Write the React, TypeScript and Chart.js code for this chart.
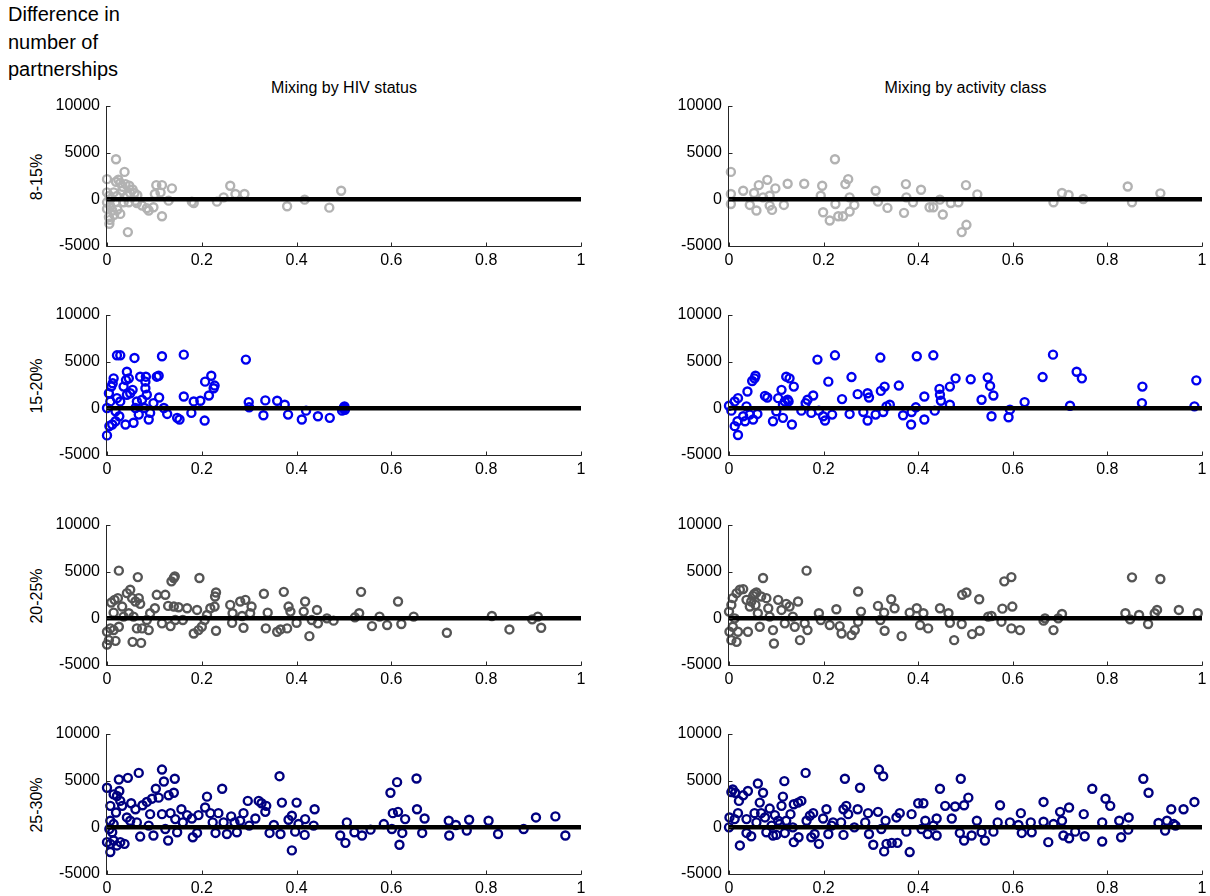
import React, { useEffect, useRef } from "react";
import { Chart, registerables } from "chart.js";

Chart.register(...registerables);

const FONT = '"Liberation Sans", Arial, Helvetica, sans-serif';

const xTicks = [0, 0.2, 0.4, 0.6, 0.8, 1];
const yTicks = [-5000, 0, 5000, 10000];
const columnTitles = ["Mixing by HIV status", "Mixing by activity class"];
const rowLabels = ["8-15%", "15-20%", "20-25%", "25-30%"];
const rowColors = ["#b2b2b2", "#0000ee", "#555555", "#000080"];
const zeroLineX = [0, 1];
const yAxisLabel = ["Difference in", "number of", "partnerships"];

type P = [number, number][];

const hiv_8_15: P = [
  [0.019, 4290], [0.037, 2940], [0, 2160], [0.019, 1880], [0.028, 1740], [0.039, 1630], [0.047, 1450],
  [0.024, 2100], [0.033, 1350], [0.054, 1050], [0, 745], [0.014, 745], [0.032, 920], [0.049, 675],
  [0.058, 675], [0.005, 390], [0.021, 350], [0.042, 400], [0.064, 450], [0.007, 35], [0.018, -320],
  [0, -320], [0.035, -320], [0.046, -320], [0.06, -150], [0, -1030], [0.011, -1200], [0.028, -1560],
  [0.022, -1100], [0.007, -700], [0.015, -1650], [0.004, -1900], [0.006, -2200], [0.005, -2620],
  [0.044, -3510], [0.063, -390], [0.074, -670], [0.084, -960], [0.098, -850], [0.088, -1200],
  [0.104, 1520], [0.116, 1520], [0.137, 1170], [0.101, 570], [0.113, 745], [0.116, -1810], [0.13, -140],
  [0.179, -250], [0.183, -390], [0.232, -250], [0.246, 210], [0.26, 1450], [0.271, 570], [0.29, 570],
  [0.38, -745], [0.417, -35], [0.469, -890], [0.494, 920]
];

const act_8_15: P = [
  [0.004, 2940], [0.004, 570], [0.004, -500], [0.03, 920], [0.044, -600], [0.053, 675], [0.058, -1200],
  [0.063, 1520], [0.072, 210], [0.081, 2090], [0.086, 390], [0.086, -670], [0.091, -1130], [0.098, 1170],
  [0.116, -600], [0.124, 1670], [0.159, 1670], [0.194, 390], [0.197, 1450], [0.199, -1380], [0.213, -2270],
  [0.224, 4290], [0.225, -500], [0.231, -1810], [0.241, -1810], [0.246, 1630], [0.252, 2160], [0.255, -1310],
  [0.255, 210], [0.265, -600], [0.31, 920], [0.315, -250], [0.335, -920], [0.37, -1450], [0.374, 1630],
  [0.375, 210], [0.389, -320], [0.406, 1030], [0.424, -850], [0.432, -850], [0.446, -35], [0.452, -1630],
  [0.469, -390], [0.485, -320], [0.492, -3510], [0.502, -2730], [0.501, 1520], [0.525, 530], [0.686, -320],
  [0.704, 675], [0.718, 460], [0.749, 35], [0.843, 1380], [0.852, -320], [0.912, 640]
];

const hiv_15_20: P = [
  [0, -2900], [0.005, -1900], [0.011, -1730], [0.018, -1380], [0, 35], [0.007, 740], [0.004, 1620],
  [0.009, 2330], [0.014, 3210], [0.012, 2680], [0.021, 5680], [0.028, 5680], [0.021, 1090], [0.028, 740],
  [0.018, -320], [0.026, -850], [0.035, 2330], [0.042, 3920], [0.04, 3030], [0.046, 3210], [0.042, 1450],
  [0.049, 1620], [0.039, -1730], [0.056, -1550], [0.058, 5400], [0.054, 1980], [0.063, 740], [0.06, 35],
  [0.07, 3390], [0.074, 920], [0.081, 2860], [0.082, 3390], [0.081, 2150], [0.084, 1450], [0.088, -1200],
  [0.091, -490], [0.079, 35], [0.067, -670], [0.098, 560], [0.105, 3390], [0.109, 3490], [0.11, 1160],
  [0.116, 5580], [0.12, 35], [0.127, -600], [0.148, -1020], [0.153, -1200], [0.162, 1270], [0.162, 5750],
  [0.178, -490], [0.183, 740], [0.197, 810], [0.206, -1310], [0.207, 2860], [0.215, 1380], [0.22, 3490],
  [0.225, 2150], [0.227, 2440], [0.293, 5220], [0.299, 670], [0.3, 110], [0.33, -740], [0.334, 850],
  [0.359, 810], [0.375, 390], [0.382, -670], [0.411, -1200], [0.42, -250], [0.445, -850], [0.47, -1020],
  [0.499, -35], [0.501, 210], [0.496, -250], [0.5, 100], [0.502, -150]
];

const act_15_20: P = [
  [0, 280], [0.005, -250], [0.012, 740], [0.019, 1090], [0.012, -1910], [0.019, -2860], [0.018, -1380],
  [0.03, -850], [0.037, 210], [0.034, -1380], [0.039, 1800], [0.044, -670], [0.049, 2930], [0.054, 3210],
  [0.056, 3490], [0.051, -1200], [0.06, -600], [0.076, 1340], [0.081, 1160], [0.093, -1380], [0.1, -320],
  [0.104, 1090], [0.111, 1980], [0.114, 390], [0.114, -1020], [0.118, 740], [0.121, 3390], [0.124, 920],
  [0.126, 740], [0.128, 3210], [0.133, -1730], [0.137, 2330], [0.153, -250], [0.162, 560], [0.166, 920],
  [0.174, -490], [0.178, 1380], [0.187, 5220], [0.19, -250], [0.199, -850], [0.203, -1310], [0.21, 2860],
  [0.218, -670], [0.224, 5680], [0.239, 990], [0.255, -600], [0.259, 3350], [0.272, 1520], [0.284, -390],
  [0.293, -1310], [0.293, 1620], [0.296, 1160], [0.31, -670], [0.321, 1870], [0.32, 5440], [0.326, -390],
  [0.329, 2330], [0.333, 210], [0.34, 390], [0.359, 2440], [0.368, -740], [0.385, -1730], [0.386, -390],
  [0.395, 110], [0.397, 5580], [0.413, 1270], [0.413, -1200], [0.432, 5680], [0.435, -250], [0.445, 2080],
  [0.446, 1450], [0.448, 810], [0.467, 390], [0.467, 2330], [0.479, 3210], [0.511, 3110], [0.534, 920],
  [0.547, 3320], [0.552, 2400], [0.555, -850], [0.559, 1380], [0.591, -950], [0.594, -140], [0.625, 670],
  [0.663, 3350], [0.685, 5750], [0.721, 280], [0.735, 3920], [0.746, 3210], [0.873, 560], [0.874, 2330],
  [0.984, 210], [0.988, 3000]
];

const hiv_20_25: P = [
  [0.025, 5110], [0.065, 4420], [0.136, 3960], [0.141, 4320], [0.143, 4500], [0.195, 4320], [0, -2800],
  [0.004, -2340], [0.018, -2410], [0, -1440], [0.007, -1080], [0.014, -1260], [0.025, -900], [0.009, 1690],
  [0.016, 1980], [0.023, 2160], [0.032, 1260], [0.014, 610], [0.035, 180], [0.042, 2700], [0.049, 3060],
  [0.053, 2160], [0.06, 1800], [0.067, 2160], [0.07, 1550], [0.046, 540], [0.056, 180], [0.054, -2520],
  [0.072, -2630], [0.063, -1080], [0.074, -1080], [0.088, -1260], [0.084, -180], [0.091, 540], [0.101, 1080],
  [0.105, 2520], [0.116, -540], [0.123, 2520], [0.129, 1330], [0.134, -830], [0.141, 1260], [0.144, -180],
  [0.151, 1190], [0.16, -180], [0.169, 1080], [0.183, -1620], [0.19, 900], [0.193, -1260], [0.2, -900],
  [0.206, -180], [0.211, 360], [0.218, 1080], [0.227, 1260], [0.228, 2340], [0.23, 2770], [0.23, -1330],
  [0.26, 1440], [0.264, -470], [0.265, 540], [0.281, 1800], [0.292, 1980], [0.288, -1010], [0.285, 250],
  [0.305, 1260], [0.302, 540], [0.331, 2630], [0.335, -1080], [0.339, 610], [0.359, -1440], [0.366, -1190],
  [0.373, 2840], [0.38, -1080], [0.383, 1260], [0.387, 720], [0.4, -470], [0.418, 1800], [0.415, 720],
  [0.427, -1910], [0.432, -180], [0.443, 900], [0.445, -540], [0.464, 0], [0.478, -250], [0.523, 110],
  [0.532, 540], [0.536, 2840], [0.559, -830], [0.575, 180], [0.591, -720], [0.614, 1800], [0.621, -610],
  [0.647, 180], [0.717, -1550], [0.812, 250], [0.849, -1190], [0.897, -110], [0.909, 180], [0.916, -1010]
];

const act_20_25: P = [
  [0, 720], [0.005, 1440], [0.008, 2160], [0.016, 2700], [0.023, 3060], [0.03, 3130], [0.001, -1440],
  [0.005, -2340], [0.016, -2520], [0.019, -1440], [0.008, -900], [0.012, 0], [0.037, 1980], [0.04, -1440],
  [0.044, 1260], [0.047, 1800], [0.051, 2410], [0.054, 2630], [0.058, 2770], [0.056, 1440], [0.061, 540],
  [0.065, -900], [0.068, 2340], [0.072, 4320], [0.079, 2160], [0.083, 1080], [0.086, 180], [0.093, -1260],
  [0.095, -2700], [0.104, 1980], [0.111, 900], [0.118, -540], [0.121, 1550], [0.128, 1260], [0.135, 180],
  [0.139, -900], [0.146, 1800], [0.15, -2340], [0.16, -540], [0.164, 5110], [0.166, -1260], [0.19, 540],
  [0.194, -180], [0.213, -720], [0.227, 970], [0.234, -830], [0.238, -1620], [0.259, -1800], [0.266, -1260],
  [0.273, 2880], [0.279, 720], [0.273, -360], [0.315, 1330], [0.32, -180], [0.329, -1330], [0.328, 610],
  [0.343, 2050], [0.35, 1080], [0.365, -1910], [0.382, 610], [0.397, 1080], [0.404, -720], [0.411, 540],
  [0.421, -1080], [0.446, 1080], [0.464, 540], [0.467, -470], [0.476, -2340], [0.492, -610], [0.493, 2520],
  [0.502, 2770], [0.514, -1690], [0.529, 2050], [0.53, -1330], [0.548, 180], [0.555, 250], [0.576, -360],
  [0.578, 1040], [0.582, 3960], [0.597, 4420], [0.599, 1260], [0.597, -1080], [0.615, -1260], [0.665, -250],
  [0.668, 0], [0.686, -1260], [0.704, 470], [0.696, 0], [0.838, 540], [0.848, -110], [0.852, 4390],
  [0.867, 360], [0.886, -610], [0.9, 540], [0.905, 900], [0.912, 4210], [0.951, 900], [0.991, 540]
];

const hiv_25_30: P = [
  [0, 4240], [0.007, -2650], [0, -1590], [0.007, -1770], [0.014, -1410], [0.021, -1940], [0.028, -1590],
  [0.037, -1770], [0.007, 2300], [0.014, 3530], [0.021, 3360], [0.026, 3890], [0.028, 2830], [0.025, 5120],
  [0.044, 5300], [0.032, 2300], [0.019, 1590], [0.007, 710], [0.014, 350], [0.005, -180], [0.011, -530],
  [0.042, 1060], [0.051, 2580], [0.049, 710], [0.06, 1940], [0.067, 5830], [0.063, 530], [0.07, -990],
  [0.075, 2370], [0.084, 2720], [0.091, 1410], [0.088, 180], [0.095, 3070], [0.098, -880], [0.103, 4130],
  [0.109, 3180], [0.116, 6190], [0.116, 1410], [0.12, 4910], [0.123, -180], [0.129, -1410], [0.13, 3430],
  [0.134, 1520], [0.141, 3710], [0.143, 5200], [0.144, 880], [0.148, -530], [0.157, 1940], [0.16, 530],
  [0.169, 1310], [0.179, 950], [0.181, -1060], [0.19, -600], [0.193, 1310], [0.207, 2120], [0.211, 3290],
  [0.218, 1520], [0.223, 530], [0.229, -600], [0.235, 1520], [0.243, 4130], [0.246, 530], [0.253, -710],
  [0.262, 1170], [0.269, 530], [0.274, -530], [0.281, 710], [0.288, 1520], [0.297, 2830], [0.3, 180],
  [0.313, 950], [0.32, 2830], [0.326, 2580], [0.334, 1660], [0.336, 2300], [0.343, -600], [0.352, 250],
  [0.364, 5480], [0.369, 2650], [0.366, -710], [0.383, 810], [0.39, 1240], [0.39, -2470], [0.397, -460],
  [0.4, 2650], [0.404, 350], [0.417, -810], [0.418, 880], [0.436, 180], [0.438, 1940], [0.492, -880],
  [0.503, -1660], [0.506, 530], [0.522, -530], [0.538, -880], [0.556, -250], [0.584, 350], [0.598, 3710],
  [0.601, -180], [0.603, 1520], [0.612, 4840], [0.614, 1660], [0.617, -1870], [0.623, -600], [0.629, 880],
  [0.653, 5230], [0.654, 1940], [0.665, -600], [0.67, 950], [0.722, -880], [0.721, 710], [0.736, 250],
  [0.759, -350], [0.764, 810], [0.805, 710], [0.825, -710], [0.879, -180], [0.905, 1060], [0.946, 1170],
  [0.967, -880]
];

const act_25_30: P = [
  [0.001, 1060], [0.005, 3780], [0.008, 4060], [0.013, 3710], [0, 0], [0.012, 880], [0.019, 1520],
  [0.021, 2830], [0.023, -1940], [0.03, 3430], [0.037, 880], [0.037, -600], [0.04, 3890], [0.047, -950],
  [0.054, 1520], [0.058, 530], [0.061, 4700], [0.065, 2650], [0.068, 1520], [0.072, 3710], [0.076, 1060],
  [0.079, -530], [0.086, 2010], [0.09, 180], [0.093, -880], [0.097, 1310], [0.1, -810], [0.104, 710],
  [0.107, 350], [0.111, 2300], [0.114, 3290], [0.117, 4950], [0.118, -600], [0.121, 710], [0.13, 1410],
  [0.135, 0], [0.137, 2470], [0.137, -1590], [0.146, 2650], [0.147, -1060], [0.153, 2830], [0.162, 5830],
  [0.164, 710], [0.171, 1240], [0.174, -1060], [0.178, 1520], [0.181, -710], [0.19, -1770], [0.199, 950],
  [0.206, 1940], [0.21, -710], [0.217, 180], [0.22, 530], [0.237, 530], [0.242, -810], [0.242, 1940],
  [0.245, 5200], [0.248, 2300], [0.252, 1410], [0.265, 0], [0.272, 1940], [0.277, 4240], [0.288, 530],
  [0.294, 1520], [0.296, -710], [0.305, -1870], [0.315, 1660], [0.317, 6190], [0.322, -180], [0.326, 5480],
  [0.328, -2580], [0.331, 710], [0.333, -1770], [0.344, -1660], [0.354, 1060], [0.356, -1660], [0.361, 1520],
  [0.375, -460], [0.386, 1410], [0.382, -2650], [0.4, 2580], [0.411, 2580], [0.415, 710], [0.407, -180],
  [0.42, -710], [0.432, 180], [0.439, 950], [0.439, -880], [0.446, 4130], [0.457, 2300], [0.471, 950],
  [0.478, 2230], [0.488, -600], [0.49, 5200], [0.497, 2370], [0.497, -1410], [0.506, 3180], [0.513, -880],
  [0.524, 710], [0.534, -530], [0.541, -1410], [0.559, -460], [0.568, 530], [0.573, 2370], [0.594, 530],
  [0.612, 250], [0.617, 1520], [0.619, -600], [0.64, -530], [0.638, 530], [0.665, 600], [0.665, 2720],
  [0.675, -1590], [0.686, 350], [0.7, 1660], [0.704, 710], [0.707, -880], [0.719, 2120], [0.719, -1170],
  [0.732, -460], [0.75, 1410], [0.752, -950], [0.768, 4130], [0.789, 530], [0.789, -1520], [0.796, 3070],
  [0.806, 2300], [0.825, 710], [0.829, -1060], [0.845, 1060], [0.844, -250], [0.876, 5200], [0.887, 3710],
  [0.908, 460], [0.922, -350], [0.926, 710], [0.935, 1940], [0.94, 350], [0.944, 180], [0.961, 1940],
  [0.984, 2720]
];

const panelData: P[][] = [
  [hiv_8_15, act_8_15],
  [hiv_15_20, act_15_20],
  [hiv_20_25, act_20_25],
  [hiv_25_30, act_25_30]
];

// layout (page pixels)
const PLOT_LEFT = [107, 729];
const PLOT_W = [474, 473];
const PAD_RIGHT = [14, 8];
const PLOT_TOP = [106, 315, 525, 734];
const PLOT_H = 140;
const Y_AXIS_W = 60;
const X_AXIS_H = 22;
const PAD_TOP = 12;

const innerTicks = {
  id: "innerTicks",
  afterDraw(chart: any) {
    const { ctx, chartArea, scales } = chart;
    ctx.save();
    ctx.strokeStyle = "#262626";
    ctx.lineWidth = 1;
    ctx.beginPath();
    const yb = Math.round(chartArea.bottom) + 0.5;
    const xl = Math.round(chartArea.left) - 0.5;
    ctx.moveTo(xl, Math.round(chartArea.top));
    ctx.lineTo(xl, yb);
    ctx.lineTo(Math.round(chartArea.right) + 0.5, yb);
    for (const t of xTicks) {
      const px = Math.round(scales.x.getPixelForValue(t)) + 0.5;
      ctx.moveTo(px, yb);
      ctx.lineTo(px, yb - 4);
    }
    for (const t of yTicks) {
      const py = Math.round(scales.y.getPixelForValue(t)) + 0.5;
      ctx.moveTo(xl, py);
      ctx.lineTo(xl + 4, py);
    }
    ctx.stroke();
    ctx.restore();
  }
};

function Panel({ points, color, col, row }: { points: P; color: string; col: number; row: number }) {
  const ref = useRef<HTMLCanvasElement>(null);
  const width = Y_AXIS_W + PLOT_W[col] + PAD_RIGHT[col];
  const height = PAD_TOP + PLOT_H + X_AXIS_H;
  const left = PLOT_LEFT[col] - Y_AXIS_W;
  const top = PLOT_TOP[row] - PAD_TOP;

  useEffect(() => {
    const tickFont = { family: FONT, size: 16 };
    const chart = new Chart(ref.current as HTMLCanvasElement, {
      type: "scatter",
      data: {
        datasets: [
          {
            data: zeroLineX.map((x) => ({ x, y: 0 })),
            showLine: true,
            borderColor: "#000000",
            borderWidth: 4.5,
            borderCapStyle: "round",
            pointRadius: 0,
            order: 0
          } as any,
          {
            data: points.map(([x, y]) => ({ x, y })),
            showLine: false,
            pointStyle: "circle",
            pointRadius: 4,
            pointBorderWidth: 2.4,
            pointBorderColor: color,
            pointBackgroundColor: "rgba(0,0,0,0)",
            borderColor: color,
            backgroundColor: "rgba(0,0,0,0)",
            clip: false,
            order: 1
          } as any
        ]
      },
      options: {
        responsive: false,
        animation: false,
        devicePixelRatio: 1,
        events: [],
        layout: { padding: { top: PAD_TOP, right: PAD_RIGHT[col], bottom: 0, left: 0 } },
        plugins: { legend: { display: false }, tooltip: { enabled: false }, title: { display: false } },
        scales: {
          x: {
            type: "linear",
            min: 0,
            max: 1,
            afterBuildTicks: (s: any) => {
              s.ticks = xTicks.map((value) => ({ value }));
            },
            afterFit: (s: any) => {
              s.height = X_AXIS_H;
              s.paddingLeft = 0;
              s.paddingRight = 0;
            },
            grid: { display: false, drawTicks: false },
            border: { display: false },
            ticks: {
              padding: 5,
              color: "#000000",
              font: tickFont,
              autoSkip: false,
              maxRotation: 0,
              callback: (v: any) => String(Math.round(Number(v) * 10) / 10)
            }
          },
          y: {
            type: "linear",
            min: -5000,
            max: 10000,
            afterBuildTicks: (s: any) => {
              s.ticks = yTicks.map((value) => ({ value }));
            },
            afterFit: (s: any) => {
              s.width = Y_AXIS_W;
              s.paddingTop = 0;
              s.paddingBottom = 0;
            },
            grid: { display: false, drawTicks: false },
            border: { display: false },
            ticks: {
              padding: 7,
              color: "#000000",
              font: tickFont,
              autoSkip: false,
              callback: (v: any) => String(v)
            }
          }
        }
      } as any,
      plugins: [innerTicks]
    });
    return () => chart.destroy();
  }, []);

  return (
    <canvas
      ref={ref}
      width={width}
      height={height}
      style={{ position: "absolute", left, top, width, height }}
    />
  );
}

export default function App() {
  return (
    <div
      style={{
        position: "absolute",
        left: 0,
        top: 0,
        width: 1210,
        height: 896,
        overflow: "hidden",
        background: "#ffffff",
        fontFamily: FONT,
        color: "#000"
      }}
    >
      <div style={{ position: "absolute", left: 8, top: 1, fontSize: 20, lineHeight: "27.5px", whiteSpace: "nowrap" }}>
        {yAxisLabel.map((t) => (
          <div key={t}>{t}</div>
        ))}
      </div>
      {columnTitles.map((t, c) => (
        <div
          key={t}
          style={{
            position: "absolute",
            left: PLOT_LEFT[c] + PLOT_W[c] / 2 - 200,
            width: 400,
            top: 79,
            fontSize: 16,
            textAlign: "center",
            whiteSpace: "nowrap"
          }}
        >
          {t}
        </div>
      ))}
      {rowLabels.map((t, r) => (
        <div
          key={t}
          style={{
            position: "absolute",
            left: 37 - 50,
            top: PLOT_TOP[r] + PLOT_H / 2 + 1 - 8,
            width: 100,
            height: 16,
            lineHeight: "16px",
            fontSize: 16,
            textAlign: "center",
            transform: "rotate(-90deg)",
            whiteSpace: "nowrap"
          }}
        >
          {t}
        </div>
      ))}
      {panelData.map((rowSets, r) =>
        rowSets.map((pts, c) => (
          <Panel key={`${r}-${c}`} points={pts} color={rowColors[r]} col={c} row={r} />
        ))
      )}
    </div>
  );
}
